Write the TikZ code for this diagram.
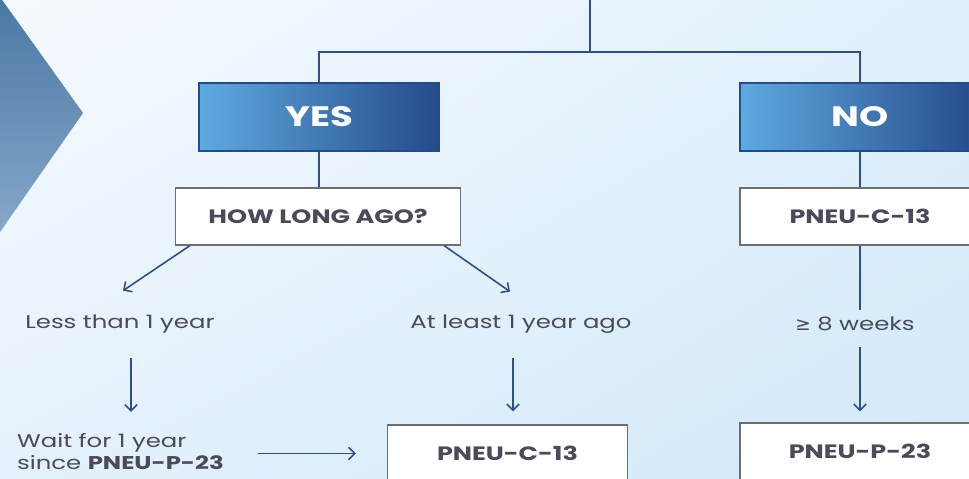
\documentclass[tikz,border=0pt]{standalone}
\usepackage{fontspec}
\setmainfont{Poppins}[FakeStretch=1.32]
\newfontfamily\symfont{DejaVu Sans}
\usetikzlibrary{arrows.meta,positioning,calc,shadings}
\definecolor{pline}{HTML}{2E4F8C}
\definecolor{ptext}{HTML}{4A4A58}
\definecolor{pgrey}{HTML}{6E6E6E}
\definecolor{plight}{HTML}{5EAAE0}
\definecolor{pmid}{HTML}{2F7DBE}
\definecolor{pdark}{HTML}{254A8A}
\definecolor{bgtl}{HTML}{F6FAFE}
\definecolor{bgtr}{HTML}{E0F0FC}
\definecolor{bgbl}{HTML}{E4F1FC}
\definecolor{bgbr}{HTML}{D2E8F9}
\definecolor{chtop}{HTML}{4B78A4}
\definecolor{chbot}{HTML}{85A8CA}
\tikzset{
  ans/.style={draw=pdark,line width=0.6pt,minimum width=48mm,minimum height=13.6mm,left color=plight,middle color=pmid,right color=pdark,text=white,font=\fontsize{16}{19}\selectfont\bfseries},
  vac/.style={draw=pgrey,fill=white,line width=0.8pt,minimum width=48mm,minimum height=11.4mm,text=ptext,font=\fontsize{11}{13}\selectfont\bfseries},
  lbl/.style={text=ptext,font=\fontsize{10.5}{12.5}\selectfont,inner sep=1pt},
  ln/.style={draw=pline,line width=0.9pt},
  arr/.style={ln,-{Straight Barb[length=3.5pt,width=7pt]}},
}
\begin{document}
\begin{tikzpicture}[x=0.2mm,y=-0.2mm]
  \useasboundingbox (0,0) rectangle (969,479);
  \clip (0,0) rectangle (969,479);
  \shade[upper left=bgtl,upper right=bgtr,lower left=bgbl,lower right=bgbr] (0,0) rectangle (969,479);
  \shade[top color=chtop,bottom color=chbot] (0,-3) -- (83,113) -- (0,232) -- cycle;

  \coordinate (top) at (590,-5);
  \coordinate (split) at (590,52);
  \node[ans] (yes) at (319,117) {YES};
  \node[ans] (no) at (860,117) {NO};
  \node[vac,minimum width=57mm] (howlong) at (318,216.5) {HOW LONG AGO?};
  \node[vac] (noc) at (860,216.5) {PNEU-C-13};

  \node[lbl] (less) at (120,324) {Less than 1 year};
  \node[lbl] (atleast) at (521,324) {At least 1 year ago};
  \node[lbl] (weeks) at (855,324) {{\symfont ≥} 8 weeks};
  \node[lbl,align=left,anchor=west] (wait) at (15,452) {Wait for 1 year\\since \textbf{PNEU-P-23}};
  \node[vac] (yesc) at (507.5,453.5) {PNEU-C-13};
  \node[vac] (nop) at (860,451.5) {PNEU-P-23};

  \draw[ln] (top) -- (split);
  \draw[ln] (split) -| (yes.north);
  \draw[ln] (split) -| (no.north);
  \draw[ln] (yes.south) -- (howlong.north -| yes.south);
  \draw[ln] (no) -- (noc);

  \draw[arr] ([xshift=3mm]howlong.south west) -- ([xshift=0.6mm,yshift=4.4mm]less.north);
  \draw[arr] ([xshift=-3.4mm]howlong.south east) -- ([xshift=-2.2mm,yshift=4.2mm]atleast.north);
  \draw[ln,shorten >=1mm] (noc.south) -- (noc.south |- weeks.north);

  \draw[arr,shorten <=4.6mm,shorten >=4mm] ([xshift=2.2mm]less.south) -- ([xshift=2.2mm]less.south |- wait.north);
  \draw[arr,shorten <=4.6mm,shorten >=2.6mm] ([xshift=-1.6mm]atleast.south) -- ([xshift=-1.6mm]atleast.south |- yesc.north);
  \draw[arr,shorten <=2.8mm,shorten >=2.2mm] (noc.south |- weeks.south) -- (nop.north);
  \draw[arr,shorten <=6.4mm,shorten >=6.2mm] (wait.east |- yesc.west) -- (yesc.west);
\end{tikzpicture}
\end{document}
